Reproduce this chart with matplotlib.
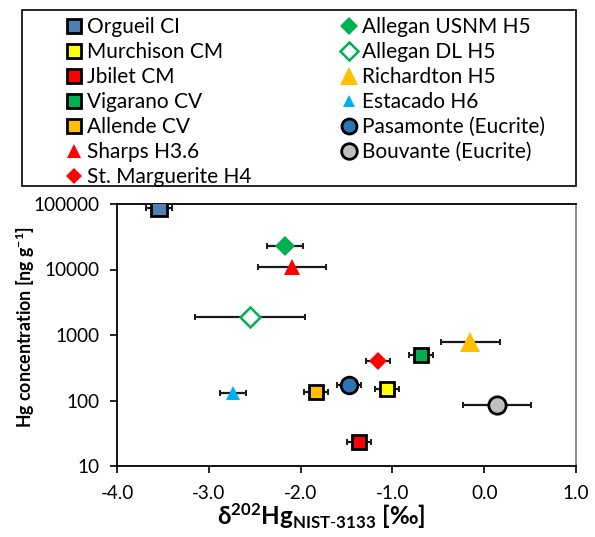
import matplotlib
matplotlib.use("Agg")
import matplotlib.pyplot as plt
from matplotlib.patches import Rectangle
from matplotlib.ticker import FixedLocator, FixedFormatter

plt.rcParams['font.family'] = ['Lato', 'DejaVu Sans']
plt.rcParams['mathtext.fontset'] = 'custom'
plt.rcParams['mathtext.rm'] = 'Lato'
plt.rcParams['mathtext.bf'] = 'Lato:bold'
plt.rcParams['mathtext.it'] = 'Lato:italic'

# meteorite samples
names = ['Orgueil CI', 'Murchison CM', 'Jbilet CM', 'Vigarano CV', 'Allende CV',
         'Sharps H3.6', 'St. Marguerite H4', 'Allegan USNM H5', 'Allegan DL H5',
         'Richardton H5', 'Estacado H6', 'Pasamonte (Eucrite)', 'Bouvante (Eucrite)']
d202 = [-3.54, -1.06, -1.36, -0.69, -1.83,
        -2.09, -1.16, -2.17, -2.55,
        -0.15, -2.74, -1.47, 0.14]
d202_err = [0.14, 0.13, 0.13, 0.13, 0.13,
            0.37, 0.13, 0.20, 0.60,
            0.32, 0.14, 0.13, 0.37]
hg_conc = [87000, 151, 23, 490, 133,
           11000, 396, 22900, 1900,
           782, 130, 174, 84.5]

# marker styles
markers = ['s', 's', 's', 's', 's', '^', 'D', 'D', 'D', '^', '^', 'o', 'o']
faces = ['#4F7FB5', '#FFFF00', '#FF0000', '#00B050', '#FFC000',
         '#FF0000', '#FF0000', '#00B050', 'white',
         '#FFC000', '#00B0F0', '#2E75B6', '#BFBFBF']
edges = ['black', 'black', 'black', 'black', 'black',
         '#FF0000', '#FF0000', '#00B050', '#00B050',
         '#FFC000', '#00B0F0', 'black', 'black']
sizes = [11, 10.5, 10.5, 10.5, 10.5, 11.5, 9, 10, 10, 14.5, 9.5, 12, 12.5]
edge_w = [2, 2, 2, 2, 2, 0, 0, 0, 1.8, 0, 0, 2, 2]

fig = plt.figure(figsize=(5.95, 5.37), dpi=100)
ax = fig.add_axes([117/595, 1 - 466/537, (576 - 117)/595, (466 - 204)/537])

ax.errorbar(d202, hg_conc, xerr=d202_err, fmt='none', ecolor='#1a1a1a',
            elinewidth=1.6, capsize=2.5, capthick=1.4, zorder=2)

for i in range(len(names)):
    ax.plot(d202[i], hg_conc[i], linestyle='none', marker=markers[i],
            markersize=sizes[i], markerfacecolor=faces[i],
            markeredgecolor=edges[i], markeredgewidth=edge_w[i],
            label=names[i], zorder=3)

ax.set_yscale('log')
ax.set_xlim(-4.0, 1.0)
ax.set_ylim(10, 100000)
ax.xaxis.set_major_locator(FixedLocator([-4, -3, -2, -1, 0, 1]))
ax.set_xticklabels(['-4.0', '-3.0', '-2.0', '-1.0', '0.0', '1.0'])
ax.yaxis.set_major_locator(FixedLocator([10, 100, 1000, 10000, 100000]))
ax.yaxis.set_major_formatter(FixedFormatter(['10', '100', '1000', '10000', '100000']))
ax.yaxis.set_minor_locator(FixedLocator([]))
ax.tick_params(axis='both', direction='out', length=5, width=1.2,
               labelsize=13.6, colors='black')
ax.tick_params(axis='x', pad=9)
ax.tick_params(axis='y', pad=8)

for side in ['left', 'bottom', 'top']:
    ax.spines[side].set_linewidth(1.3)
    ax.spines[side].set_color('black')
ax.spines['right'].set_linewidth(1.3)
ax.spines['right'].set_color('#7f7f7f')

ax.set_xlabel(r'$\mathbf{\delta^{202}Hg_{NIST\text{-}3133}}$ [‰]',
              fontsize=17.4, fontweight='bold')
ax.xaxis.set_label_coords((321.5 - 117) / 459, -(525 - 466) / 262, transform=ax.transAxes)
ax.xaxis.label.set_va('baseline')
ax.set_ylabel(r'Hg concentration [ng g$^{\mathbf{-1}}$]',
              fontsize=12.8, fontweight='bold')
ax.yaxis.set_label_coords((25 - 117) / 459, (466 - 327.5) / 262, transform=ax.transAxes)
ax.yaxis.label.set_va('center')

# legend box
fig.patches.append(Rectangle((22/595, 1 - 186/537), 554/595, 176/537,
                             transform=fig.transFigure, facecolor='white',
                             edgecolor='black', linewidth=1.2))
fig.legend(loc='center', bbox_to_anchor=(306/595, 1 - 102/537), ncol=2,
           frameon=False, fontsize=15, markerscale=0.9, handlelength=0.7,
           handletextpad=0.3, labelspacing=0.24, columnspacing=4.3,
           borderpad=0, numpoints=1)

fig.savefig('out.png', dpi=100)
